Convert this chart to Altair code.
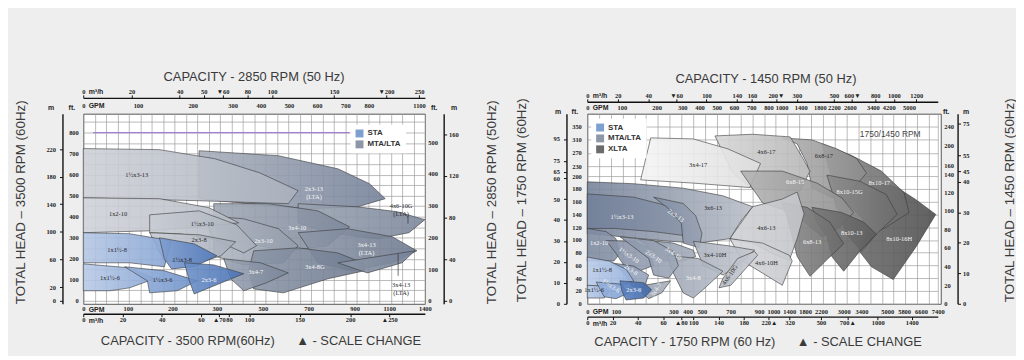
import altair as alt
import numpy as np
import pandas as pd

# =====================================================================
# DATA
# =====================================================================
# ---------- LEFT chart: 3500 RPM (60 Hz) bottom/left, 2850 RPM (50 Hz) top/right
L_BOTTOM_GPM = ["0", "100", "200", "300", "500", "700", "900", "1100", "1400"]
L_BOTTOM_M3H = ["0", "20", "40", "60", "▲70", "80", "100", "150", "200", "▲250"]
L_TOP_M3H = ["0", "20", "40", "50", "▼60", "80", "100", "150", "▼200", "250"]
L_TOP_GPM = ["0", "100", "200", "300", "400", "500", "600", "700", "800", "1100"]
L_LEFT_M = ["0", "20", "60", "100", "140", "180", "220"]
L_LEFT_FT = ["0", "100", "200", "300", "400", "500", "600", "700", "800"]
L_RIGHT_FT = ["0", "100", "200", "300", "400", "500"]
L_RIGHT_M = ["0", "40", "80", "120", "160"]

L_REGION_NAMES = ["2x3-13 (LTA)", "1½x3-13", "4x6-10G (LTA)", "3x4-10", "3x4-13 (LTA)",
                  "2x3-10", "1x2-10", "1½x3-10", "2x3-8", "3x4-8G", "3x4-13 (LTA) low",
                  "3x4-7", "1x1½-8", "1½x3-8", "1x1½-6", "1½x3-6", "2x3-6"]
L_REGION_GPM = [
    [260, 568, 827, 986, 1077, 917, 697, 438, 260],
    [0, 171, 295, 486, 654, 611, 260, 0],
    [654, 917, 1166, 1400, 1266, 1031, 784, 654],
    [293, 525, 740, 878, 784, 611, 395, 293],
    [654, 870, 1125, 1333, 1125, 891, 740],
    [271, 417, 568, 654, 590, 417, 293, 293],
    [0, 171, 282, 395, 260, 149, 0],
    [149, 260, 386, 473, 417, 291, 216, 149],
    [149, 260, 382, 317, 260, 182],
    [460, 654, 827, 946, 957, 784, 590, 460, 438],
    [827, 1060, 1316, 1208, 974],
    [330, 490, 611, 516, 417, 360],
    [0, 104, 198, 182, 104, 0],
    [171, 249, 300, 249, 198, 182],
    [0, 104, 160, 104, 60, 0],
    [93, 182, 256, 211, 149, 144],
    [227, 293, 417, 293, 249, 238],
]
L_REGION_FT = [
    [714, 690, 628, 557, 486, 447, 438, 462, 486],
    [724, 719, 676, 609, 524, 462, 476, 490],
    [462, 447, 424, 386, 324, 295, 324, 371],
    [462, 462, 428, 352, 262, 238, 276, 357],
    [324, 343, 305, 238, 181, 143, 181],
    [405, 390, 343, 262, 181, 171, 214, 286],
    [490, 486, 443, 371, 352, 333, 324],
    [409, 428, 362, 262, 228, 295, 319, 324],
    [324, 314, 281, 214, 181, 190],
    [238, 252, 228, 181, 143, 105, 38, 57, 143],
    [181, 214, 238, 181, 133],
    [200, 181, 133, 86, 48, 105],
    [324, 319, 286, 162, 181, 181],
    [300, 271, 214, 162, 152, 200],
    [176, 157, 105, 62, 48, 48],
    [162, 143, 95, 48, 38, 95],
    [181, 171, 129, 71, 33, 95],
]
L_LABELS_DARK = [("1½x3-13", 120, 600), ("4x6-10G\n(LTA)", 1200, 452), ("1x2-10", 78, 414),
                 ("1½x3-10", 267, 367), ("2x3-8", 260, 290), ("1x1½-8", 76, 243),
                 ("1½x3-8", 222, 195), ("1x1½-6", 60, 109), ("1½x3-6", 178, 100),
                 ("3x4-13\n(LTA)", 1200, 76)]
L_LABELS_LIGHT = [("2x3-13\n(LTA)", 723, 533), ("2x3-10", 503, 286), ("3x4-10", 650, 348),
                  ("3x4-13\n(LTA)", 969, 267), ("2x3-6", 282, 100), ("3x4-7", 469, 138),
                  ("3x4-8G", 727, 162)]
L_POINTER_GPM = [1258, 1175]
L_POINTER_FT_FROM = [405, 224]
L_POINTER_FT_TO = [367, 119]
L_PURPLE_GPM = [22, 879]
L_PURPLE_FT = [800]
L_FAMILIES = ["STA", "MTA/LTA"]

# ---------- RIGHT chart: 1750 RPM (60 Hz) bottom/left, 1450 RPM (50 Hz) top/right
R_BOTTOM_GPM = ["0", "100", "300", "400", "500", "700", "900", "1000", "1400", "1800", "2200",
                "3000", "3400", "5000", "5800", "6600", "7400"]
R_BOTTOM_M3H = ["0", "20", "40", "60", "▲80", "100", "140", "180", "220▲", "320", "500",
                "700▲", "1000", "1400"]
R_TOP_M3H = ["0", "20", "40", "▼60", "100", "140", "160", "200▼", "300", "500", "600▼",
             "800", "1000", "1200"]
R_TOP_GPM = ["0", "100", "200", "300", "400", "500", "600", "700", "800", "1000", "1400",
             "1800", "2200", "2600", "3400", "4200", "5000"]
R_LEFT_M = ["0", "10", "20", "30", "40", "50", "60", "65", "75", "95"]
R_LEFT_FT = ["0", "20", "40", "60", "80", "100", "120", "140", "160", "180", "200",
             "230", "270", "310", "350"]
R_RIGHT_FT = ["0", "20", "40", "60", "80", "100", "120", "140", "160", "200", "240"]
R_RIGHT_M = ["0", "10", "20", "30", "40", "45", "55", "75"]

R_REGION_NAMES = ["8x10-16H", "8x10-17", "6x8-17", "4x6-17", "3x4-17", "8x10-15G", "6x8-15",
                  "8x10-13", "6x8-13", "4x6-13", "4x6-10H", "3x6-13", "1½x3-13", "2x3-13",
                  "3x4-10H", "4x6-10G", "3x4-10", "3x4-8", "1x2-10", "1½x3-10", "2x3-10",
                  "2x3-8", "3x4-7", "1x1½-8", "1x1½-6", "1½x3-6", "2x3-6"]
R_REGION_GPM = [
    [4015, 5423, 6363, 7303, 6363, 5282, 4015, 3356, 4015],
    [2235, 3178, 4630, 5799, 6034, 4938, 4015, 3400, 2931, 2583],
    [1225, 1975, 2757, 3289, 3708, 3178, 2583, 1975, 1850, 1600],
    [591, 854, 1425, 1775, 1925, 1675, 854, 716],
    [221, 439, 681, 910, 834, 439, 186],
    [2409, 3356, 4938, 5470, 4323, 3400, 3067, 2757],
    [771, 1225, 2100, 2931, 3222, 2861, 2235, 1850, 1475, 924],
    [1975, 2931, 3523, 4323, 3356, 3000, 2583, 2409, 2100],
    [1225, 1850, 2513, 3000, 2409, 1925, 1600, 1475, 1350],
    [695, 854, 1225, 1600, 1775, 1600, 1400, 993, 854],
    [695, 924, 1400, 1475, 1225, 924, 785],
    [0, 162, 369, 647, 854, 771, 695, 473, 283, 0],
    [0, 162, 283, 369, 369, 231, 93, 0],
    [231, 369, 456, 500, 481, 369, 355, 283],
    [439, 681, 868, 750, 647, 508],
    [750, 868, 889, 702, 619, 647],
    [179, 300, 439, 456, 369, 266, 231],
    [276, 473, 647, 522, 439, 369, 300],
    [0, 66, 100, 114, 93, 0],
    [66, 162, 214, 231, 179, 128, 100],
    [114, 231, 300, 335, 283, 231, 214],
    [86, 162, 214, 197, 155, 128],
    [197, 290, 259, 214, 190],
    [0, 76, 135, 162, 114, 0],
    [0, 41, 76, 59, 0],
    [31, 114, 145, 100, 59],
    [114, 197, 224, 197, 135, 121],
]
R_REGION_FT = [
    [192, 183, 163, 140, 89, 38, 58, 82, 135],
    [297, 262, 215, 174, 143, 120, 109, 135, 166, 197],
    [315, 309, 282, 253, 209, 177, 166, 182, 238, 297],
    [321, 326, 318, 247, 215, 177, 180, 209],
    [315, 312, 282, 238, 182, 189, 194],
    [203, 192, 171, 140, 109, 82, 109, 151],
    [215, 215, 189, 166, 143, 120, 105, 125, 143, 158],
    [151, 143, 128, 109, 82, 51, 74, 105, 128],
    [158, 151, 128, 94, 69, 43, 74, 105, 135],
    [102, 152, 164, 175, 141, 102, 68, 79, 95],
    [102, 95, 76, 67, 29, 48, 67],
    [191, 188, 181, 169, 152, 129, 102, 95, 98, 110],
    [172, 167, 153, 133, 107, 113, 118, 118],
    [167, 157, 138, 110, 88, 95, 126, 149],
    [98, 91, 84, 60, 45, 60],
    [71, 82, 76, 29, 25, 40],
    [101, 95, 84, 74, 67, 67, 82],
    [76, 71, 51, 25, 9, 17, 48],
    [118, 113, 102, 79, 67, 67],
    [99, 98, 87, 60, 51, 60, 79],
    [105, 99, 82, 60, 40, 45, 71],
    [64, 59, 45, 25, 28, 48],
    [29, 36, 17, 8, 17],
    [73, 67, 54, 36, 28, 28],
    [29, 28, 20, 9, 9],
    [34, 31, 17, 8, 11],
    [36, 33, 22, 9, 6, 20],
]
R_LABELS_DARK = [("3x4-17", 473, 232), ("4x6-17", 951, 271), ("6x8-17", 2305, 259),
                 ("4x6-13", 951, 118), ("4x6-10H", 951, 64), ("3x6-13", 577, 150),
                 ("3x4-10H", 591, 76), ("1x1½-8", 52, 53), ("1x1½-6", 24, 22)]
R_LABELS_LIGHT = [("6x8-15", 1550, 191), ("8x10-15G", 3133, 175), ("8x10-17", 4508, 189),
                  ("6x8-13", 1975, 97), ("8x10-13", 3178, 111), ("8x10-16H", 5564, 102),
                  ("1½x3-13", 121, 136), ("1x2-10", 41, 95), ("3x4-8", 439, 40),
                  ("2x3-6", 162, 22)]
R_LABELS_SLANT_DOWN = [("2x3-13", 317, 138), ("1½x3-10", 145, 76), ("2x3-10", 231, 74),
                       ("3x4-10", 300, 79), ("2x3-8", 152, 53), ("1½x3-6", 83, 28)]
R_LABELS_SLANT_UP_DARK = [("4x6-10G", 695, 45)]
R_LABELS_SLANT_UP_LIGHT = [("3x4-7", 240, 22)]
R_NOTE = [("1750/1450 RPM", 5141, 326)]
R_FAMILIES = ["STA", "MTA/LTA", "XLTA"]

# =====================================================================
# STYLE / LAYOUT
# =====================================================================
FONT_T = "Liberation Sans"
FONT_N = "Liberation Serif"
GPM_PER_M3H = 4.4029
FT_PER_M = 3.2808
GRID_C = "#9c9c9c"

# (left-edge colour, right-edge colour) of each region's fill gradient
L_REGION_COLORS = [("#a9b0bc", "#76829a"), ("#cdd0d6", "#aab1bd"), ("#9aa3b1", "#7b879b"),
                   ("#a0a8b5", "#7d889b"), ("#8d97a7", "#6f7b90"), ("#b4bac4", "#939cab"),
                   ("#cfd2d8", "#b7bcc5"), ("#c8ccd3", "#a9b0bb"), ("#c6cad1", "#a7aebb"),
                   ("#8a95a6", "#6f7b90"), ("#8d97a7", "#76829a"), ("#97a1b1", "#7a869a"),
                   ("#b5c7e4", "#86a4d4"), ("#7f9ed0", "#5078bb"), ("#b8cae6", "#8ba8d6"),
                   ("#98b2dc", "#6d90c8"), ("#6d90c8", "#4a72b4")]
R_REGION_COLORS = [("#6a6a6a", "#505050"), ("#8a8a8a", "#6a6a6a"), ("#b0b0b0", "#8c8c8c"),
                   ("#d6d6d6", "#b6b6b6"), ("#f4f4f4", "#dedede"), ("#8c8c8c", "#6c6c6c"),
                   ("#b4b4b4", "#8e8e8e"), ("#777777", "#5c5c5c"), ("#8a8a8a", "#6a6a6a"),
                   ("#cfd1d5", "#c3c5ca"), ("#d4d6da", "#c8cacf"), ("#76839a", "#b9bec7"),
                   ("#72809a", "#8a95a8"), ("#7f8ca2", "#97a1b2"), ("#aab1bd", "#c3c7ce"),
                   ("#b5b9c2", "#c6c9d0"), ("#8f9aad", "#a4acba"), ("#a0a8b6", "#b5bbc5"),
                   ("#7d8aa0", "#8893a7"), ("#8590a5", "#95a0b2"), ("#8a96aa", "#9ea7b7"),
                   ("#8a9bbb", "#9aa6bb"), ("#98a2b3", "#a9b0bc"), ("#b9cbe8", "#96b1dc"),
                   ("#b5c8e6", "#9db6de"), ("#94b0dc", "#7f9fd2"), ("#5a81c0", "#3f67a8")]
FAMILY_COLORS = {"STA": "#7f9fcf", "MTA/LTA": "#8d97a8", "XLTA": "#6b6b6b"}


def num(s):
    return float(s.replace("▲", "").replace("▼", "").strip())


def map_expr(values, texts):
    parts = [f"datum.value == {v!r} ? '{t}'" for v, t in zip(values, texts)]
    return " : ".join(parts + ["''"])


BASE_AXIS = dict(labelFont=FONT_N, labelFontSize=6.5, labelFontWeight="bold", labelColor="#222",
                 labelOverlap=False, labelFlush=False, labelBound=False, grid=False,
                 titleFont=FONT_T, titleColor="#222", titleAngle=0, titleFontSize=7,
                 titleFontWeight="bold", titleAlign="center", titleBaseline="middle",
                 domainColor="#111", domainWidth=1.4, tickColor="#111",
                 tickSize=3, tickWidth=1)


class Panel:
    def __init__(self, P):
        self.P = P
        self.sx = alt.Scale(domain=P["xdom"], range=P["xrng"], nice=False, zero=False)
        self.sy = alt.Scale(domain=P["ydom"], range=P["yrng"], nice=False, zero=False)
        self.dummy = pd.DataFrame({"v": [P["xdom"][0]], "w": [P["ydom"][0]]})

    def axis(self, channel, **kw):
        args = dict(BASE_AXIS)
        args.update(kw)
        if channel == "x":
            enc = dict(x=alt.X("v:Q", scale=self.sx, axis=alt.Axis(**args)),
                       y=alt.Y("w:Q", scale=self.sy, axis=None))
        else:
            enc = dict(x=alt.X("v:Q", scale=self.sx, axis=None),
                       y=alt.Y("w:Q", scale=self.sy, axis=alt.Axis(**args)))
        return alt.Chart(self.dummy).mark_point(opacity=0).encode(**enc)

    def ticks(self, channel, labels, factor, **kw):
        vals = [num(s) * factor for s in labels]
        return self.axis(channel, values=vals, labelExpr=map_expr(vals, labels), **kw)

    def title(self, channel, text, **kw):
        args = dict(labels=False, ticks=False, domain=False, title=text, titleFontSize=13,
                    titleFontWeight="normal", titleColor="#3a3a3a")
        args.update(kw)
        return self.axis(channel, **args)

    def region(self, xs, ys, colors):
        df = pd.DataFrame({"i": list(range(len(xs) + 1)), "x": xs + [xs[0]], "y": ys + [ys[0]]})
        grad = alt.LinearGradient(gradient="linear", x1=0, x2=1, y1=0, y2=0,
                                  stops=[alt.GradientStop(color=colors[0], offset=0),
                                         alt.GradientStop(color=colors[1], offset=1)])
        return alt.Chart(df).mark_line(fill=grad, fillOpacity=0.9, stroke="#3a3a3a",
                                       strokeWidth=0.6, strokeJoin="miter").encode(
            x=alt.X("x:Q", scale=self.sx, axis=None),
            y=alt.Y("y:Q", scale=self.sy, axis=None),
            order="i:Q")

    def text(self, items, color, angle=0, font=FONT_N, size=6.5):
        df = pd.DataFrame(items, columns=["t", "x", "y"])
        mk = dict(font=font, fontSize=size, color=color, lineBreak="\n", baseline="middle",
                  align="center")
        if angle:
            mk["angle"] = angle
        return alt.Chart(df).mark_text(**mk).encode(
            x=alt.X("x:Q", scale=self.sx, axis=None), y=alt.Y("y:Q", scale=self.sy, axis=None),
            text="t:N")

    def legend(self, fams, lx, ly):
        df = pd.DataFrame({"f": fams, "v": [self.P["xdom"][0]] * len(fams),
                           "w": [self.P["ydom"][0]] * len(fams)})
        return alt.Chart(df).mark_square(opacity=0).encode(
            x=alt.X("v:Q", scale=self.sx, axis=None),
            y=alt.Y("w:Q", scale=self.sy, axis=None),
            color=alt.Color("f:N", sort=fams,
                            scale=alt.Scale(domain=fams, range=[FAMILY_COLORS[f] for f in fams]),
                            legend=alt.Legend(title=None, orient="none", legendX=lx, legendY=ly,
                                              symbolType="square", symbolSize=64,
                                              symbolOpacity=1, symbolStrokeWidth=0,
                                              labelFont=FONT_T, labelFontSize=8,
                                              labelFontWeight="bold", labelColor="#333",
                                              fillColor="white", padding=5, rowPadding=3)))

    def build(self):
        P = self.P
        k = P["ratio"]
        L = []
        # vertical grid: evenly spaced across the printed (piecewise) capacity scale
        gx = list(np.interp(np.linspace(0, P["w"], P["nx"] + 1), P["xrng"], P["xdom"]))
        L.append(self.axis("x", orient="bottom", values=gx, grid=True, gridColor=GRID_C,
                           gridWidth=0.7, labels=False, ticks=False, domain=False, title=None))
        # y axes
        ftv, ftl = P["ft_grid"]
        L.append(self.axis("y", orient="left", offset=0, domain=False, ticks=False,
                           labelPadding=P["ftpad"], grid=True, gridColor=GRID_C, gridWidth=0.7,
                           values=ftv, labelExpr=map_expr(ftv, ftl), title="ft.",
                           titleX=P["ftx"], titleY=P["unit_y"]))
        L.append(self.ticks("y", P["left_m"], FT_PER_M, orient="left", offset=21,
                            labelPadding=4, title="m", titleX=P["mx"], titleY=P["unit_y"]))
        L.append(self.title("y", P["left_title"], orient="left", offset=21, titleAngle=270,
                            titleX=P["ltx"], titleY=P["ty"], titleFontSize=13.5))
        L.append(self.ticks("y", P["right_ft"], 1 / (k * k), orient="right", offset=0,
                            domain=False, ticks=False, labelPadding=3, title="ft.",
                            titleX=P["rftx"], titleY=P["unit_y"]))
        L.append(self.ticks("y", P["right_m"], FT_PER_M / (k * k), orient="right",
                            offset=P["roff"], labelPadding=2, title="m", titleX=P["rmx"],
                            titleY=P["unit_y"]))
        L.append(self.title("y", P["right_title"], orient="right", offset=P["roff"],
                            titleAngle=270, titleX=P["rtx"], titleY=P["ty"], titleFontSize=13.5))
        # x axes
        L.append(self.ticks("x", P["bottom_gpm"], 1, orient="bottom", offset=0, domain=False,
                            ticks=False, labelPadding=P["bgpad"], title="GPM",
                            titleAlign="left", titleX=5, titleY=P["bgty"]))
        L.append(self.ticks("x", P["bottom_m3h"], GPM_PER_M3H, orient="bottom",
                            offset=P["boff"], labelPadding=0, title="m³/h", titleAlign="left",
                            titleX=5, titleY=6.5))
        L.append(self.title("x", P["bottom_title"], orient="bottom", offset=P["boff"],
                            titleX=P["btx"], titleY=P["bty"]))
        L.append(self.ticks("x", P["top_gpm"], 1 / k, orient="top", offset=0, domain=False,
                            ticks=False, labelPadding=P["tgpad"], title="GPM",
                            titleAlign="left", titleX=5, titleY=P["tgty"]))
        L.append(self.ticks("x", P["top_m3h"], GPM_PER_M3H / k, orient="top",
                            offset=P["toff"], labelPadding=0, title="m³/h", titleAlign="left",
                            titleX=5, titleY=-6.5))
        L.append(self.title("x", P["top_title"], orient="top", offset=P["toff"],
                            titleX=P["ttx"], titleY=P["tty"]))
        # pump coverage regions (back to front)
        for xs, ys, col in zip(P["gpm"], P["ft"], P["colors"]):
            L.append(self.region(xs, ys, col))
        L.extend(P["extra"](self))
        L.append(self.text(P["dark"], "#2a2a2a"))
        L.append(self.text(P["light"], "#f6f6f6"))
        L.append(self.legend(P["fams"], P["lgx"], P["lgy"]))
        return alt.layer(*L).resolve_axis(x="independent", y="independent").properties(
            width=P["w"], height=P["h"])


def left_extra(p):
    pur = pd.DataFrame({"x": [L_PURPLE_GPM[0]], "x2": [L_PURPLE_GPM[1]], "y": L_PURPLE_FT})
    ptr = pd.DataFrame({"x": L_POINTER_GPM, "y": L_POINTER_FT_FROM, "y2": L_POINTER_FT_TO})
    return [
        alt.Chart(pur).mark_rule(color="#a27fd3", strokeWidth=1.1).encode(
            x=alt.X("x:Q", scale=p.sx, axis=None), x2="x2:Q",
            y=alt.Y("y:Q", scale=p.sy, axis=None)),
        alt.Chart(ptr).mark_rule(color="#333", strokeWidth=0.7).encode(
            x=alt.X("x:Q", scale=p.sx, axis=None), y=alt.Y("y:Q", scale=p.sy, axis=None),
            y2="y2:Q"),
    ]


def right_extra(p):
    return [
        p.text(R_LABELS_SLANT_DOWN, "#f6f6f6", angle=35),
        p.text(R_LABELS_SLANT_UP_DARK, "#2a2a2a", angle=305),
        p.text(R_LABELS_SLANT_UP_LIGHT, "#f6f6f6", angle=305),
        p.text(R_NOTE, "#444", font=FONT_T, size=8.5),
    ]


NB = "\u00a0"
L_FT_GRID = list(range(0, 851, 50))
LEFT = dict(
    w=345, h=192, nx=30, ratio=2850 / 3500,
    xdom=[0, 300, 900, 1100, 1400], xrng=[0, 135, 274, 309, 345],
    ydom=[-14, 890], yrng=[192, 0],
    ft_grid=(L_FT_GRID, [str(v) if str(v) in L_LEFT_FT else "" for v in L_FT_GRID]),
    ftpad=5, ftx=-12, mx=-12, unit_y=-6, ltx=-42, ty=89,
    left_m=L_LEFT_M, right_ft=L_RIGHT_FT, right_m=L_RIGHT_M, rftx=9, rmx=10, roff=19, rtx=48,
    left_title="TOTAL HEAD – 3500 RPM (60Hz)", right_title="TOTAL HEAD – 2850 RPM (50Hz)",
    bottom_gpm=L_BOTTOM_GPM, bgpad=2, bgty=5.5, bottom_m3h=L_BOTTOM_M3H, boff=10,
    bottom_title="CAPACITY - 3500 RPM(60Hz)" + NB * 6 + "▲ - SCALE CHANGE", btx=179, bty=27,
    top_gpm=L_TOP_GPM, tgpad=5, tgty=-8.5, top_m3h=L_TOP_M3H, toff=16,
    top_title="CAPACITY - 2850 RPM (50 Hz)", ttx=172, tty=-22,
    gpm=L_REGION_GPM, ft=L_REGION_FT, colors=L_REGION_COLORS, extra=left_extra,
    dark=L_LABELS_DARK, light=L_LABELS_LIGHT, fams=L_FAMILIES, lgx=270, lgy=11,
)
RIGHT = dict(
    w=357, h=192, nx=30, ratio=1450 / 1750,
    xdom=[0, 300, 1000, 2200, 3000, 3400, 5000, 7400],
    xrng=[0, 87, 188, 236, 259, 277, 303, 354],
    ydom=[0, 200, 388], yrng=[192, 63, 0],
    ft_grid=([num(s) for s in R_LEFT_FT], R_LEFT_FT),
    ftpad=6, ftx=-13, mx=-9, unit_y=-2, ltx=-45, ty=87,
    left_m=R_LEFT_M, right_ft=R_RIGHT_FT, right_m=R_RIGHT_M, rftx=5, rmx=8, roff=17, rtx=52,
    left_title="TOTAL HEAD – 1750 RPM (60Hz)", right_title="TOTAL HEAD – 1450 RPM (50Hz)",
    bottom_gpm=R_BOTTOM_GPM, bgpad=4.5, bgty=8, bottom_m3h=R_BOTTOM_M3H, boff=13,
    bottom_title="CAPACITY - 1750 RPM (60 Hz)" + NB * 6 + "▲ - SCALE CHANGE", btx=172, bty=25,
    top_gpm=R_TOP_GPM, tgpad=3, tgty=-6.5, top_m3h=R_TOP_M3H, toff=12,
    top_title="CAPACITY - 1450 RPM (50 Hz)", ttx=180, tty=-23,
    gpm=R_REGION_GPM, ft=R_REGION_FT, colors=R_REGION_COLORS, extra=right_extra,
    dark=R_LABELS_DARK, light=R_LABELS_LIGHT, fams=R_FAMILIES, lgx=4, lgy=5,
)

chart = alt.hconcat(Panel(LEFT).build(), Panel(RIGHT).build(), spacing=16).resolve_scale(
    color="independent"
).properties(
    padding={"left": 5, "top": 60, "right": 0, "bottom": 5},
    background="#eeeeee",
).configure_view(fill="white", stroke="#555", strokeWidth=1)

chart.save("out.html", embed_options={"renderer": "svg", "actions": False})
